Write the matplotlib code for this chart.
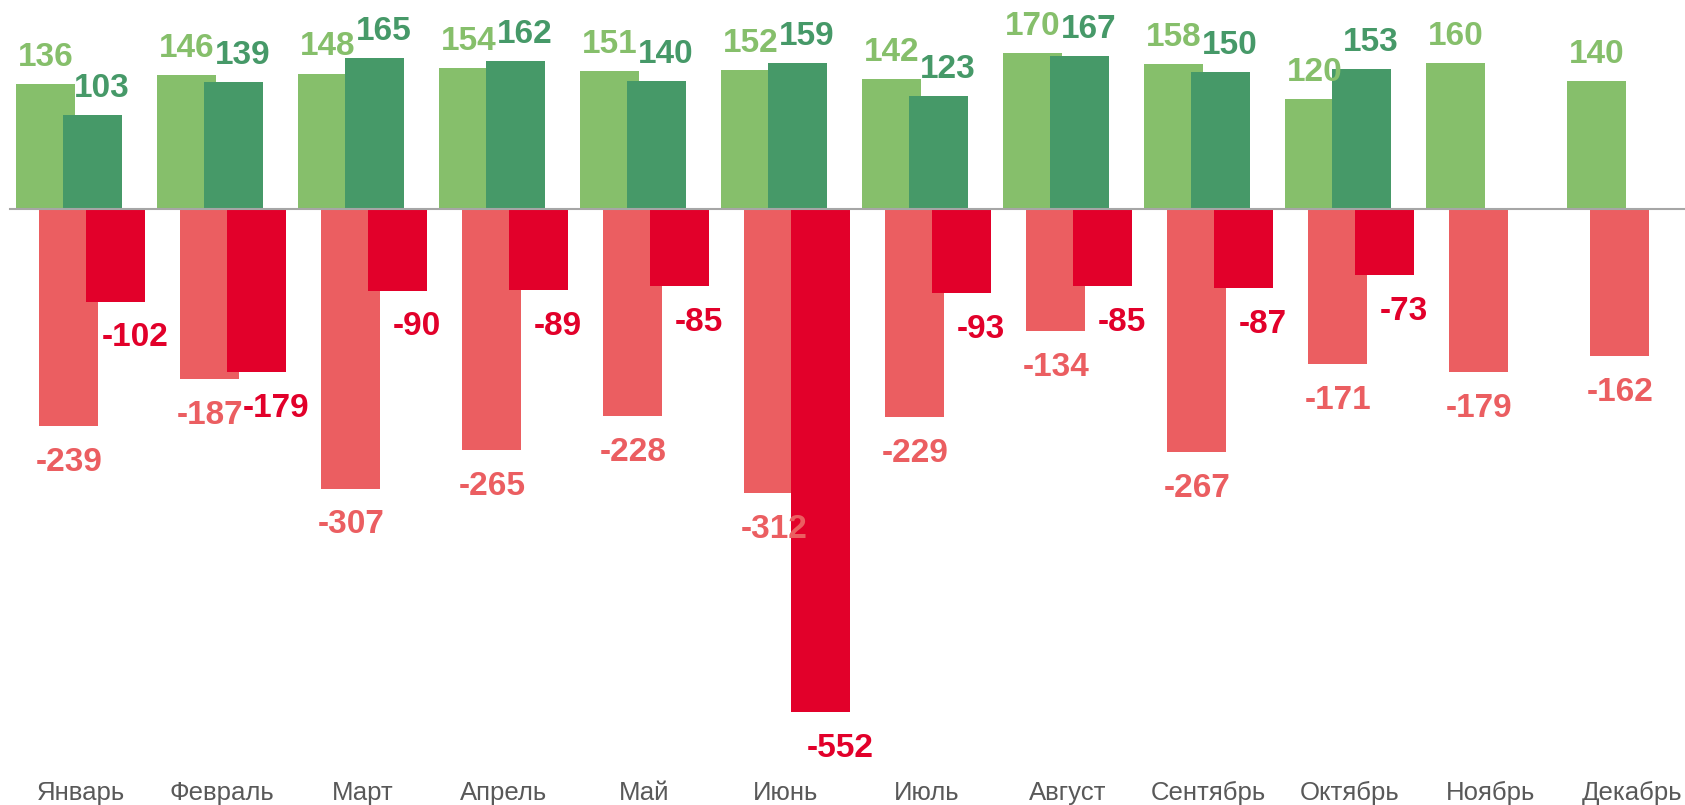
import matplotlib
matplotlib.use('Agg')
import matplotlib.pyplot as plt
import numpy as np

plt.rcParams['font.family'] = ['Liberation Sans', 'DejaVu Sans']

months = ['Январь', 'Февраль', 'Март', 'Апрель', 'Май', 'Июнь',
          'Июль', 'Август', 'Сентябрь', 'Октябрь', 'Ноябрь', 'Декабрь']
pos_prev = [136, 146, 148, 154, 151, 152, 142, 170, 158, 120, 160, 140]
pos_curr = [103, 139, 165, 162, 140, 159, 123, 167, 150, 153, None, None]
neg_prev = [-239, -187, -307, -265, -228, -312, -229, -134, -267, -171, -179, -162]
neg_curr = [-102, -179, -90, -89, -85, -552, -93, -85, -87, -73, None, None]

c_lg = '#86BF6B'
c_dg = '#469968'
c_lr = '#EB5E61'
c_dr = '#E2002A'

fig = plt.figure(figsize=(16.85, 8.05), dpi=100)
ax = fig.add_axes([0, 0, 1, 1])

x = np.arange(len(months))
w = 0.42
step = 1 / 6.0


def series(vals, shift, color, up, dx):
    xs = [xi + shift for xi, v in zip(x, vals) if v is not None]
    vs = [v for v in vals if v is not None]
    ax.bar(xs, vs, width=w, color=color, zorder=2)
    for xi, v in zip(xs, vs):
        if up:
            ax.annotate(str(v), (xi, v), xytext=(dx, 13), textcoords='offset points',
                        ha='center', va='baseline', fontsize=24, fontweight='bold', color=color)
        else:
            ax.annotate(str(v), (xi, v), xytext=(dx, -15), textcoords='offset points',
                        ha='center', va='top', fontsize=24, fontweight='bold', color=color)


series(pos_prev, -1.5 * step, c_lg, True, 0)
series(pos_curr, 0.5 * step, c_dg, True, 7)
series(neg_prev, -0.5 * step, c_lr, False, 0)
series(neg_curr, 1.5 * step, c_dr, False, 14)

ax.plot([-0.5, 12], [0, 0], color='#a6a6a6', lw=1.5, zorder=3)

for xi, m in zip(x, months):
    ax.text(xi, -648.5, m, ha='center', va='baseline', fontsize=18.5, color='#595959')

ax.set_xlim(-0.571, 11.379)
ax.set_ylim(-654, 228.6)
ax.axis('off')

plt.savefig('out.png', dpi=100)
